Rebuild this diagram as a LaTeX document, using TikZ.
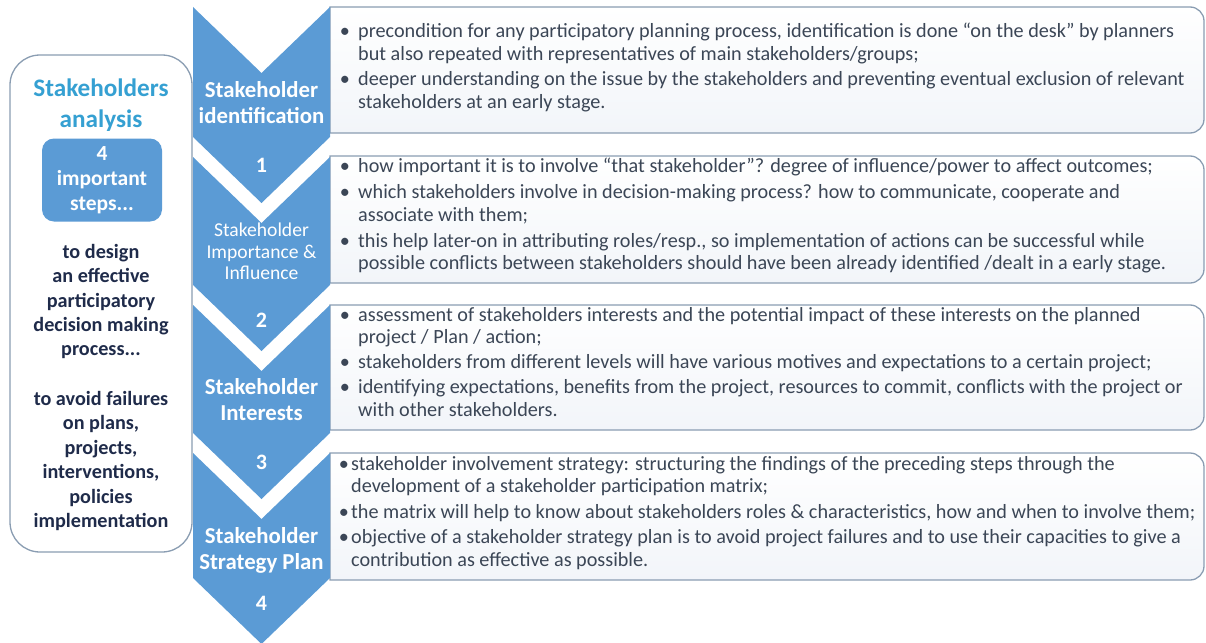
\documentclass[tikz,border=0pt]{standalone}
\usepackage{fontspec}
\setmainfont{Carlito}
\definecolor{chev}{HTML}{5B9BD5}
\definecolor{boxline}{HTML}{8A9DB2}
\definecolor{boxbottom}{HTML}{F2F5F9}
\definecolor{bodytxt}{HTML}{3B4656}
\definecolor{navy}{HTML}{1F2B4A}
\definecolor{titleblue}{HTML}{35A0D2}
\newcommand\txtln[4]{\node[txt] (#1) at (#2,#3) {#4};}
\newcommand\bulat[3]{\node[bul] (#1) at (#2,#3) {\textbullet};}
\newcommand\chevpath[2]{%
  \fill[chev] (193,#1) -- (261.5,#1+66) -- (330,#1) -- (330,#2) -- (261.5,#2+66) -- (193,#2) -- cycle;}
\newcommand\infopath[2]{%
  \draw[infobox] (330,#1) -- (1190,#1) arc (90:0:14pt) -- (1204,#2-14) arc (0:-90:14pt) -- (330,#2) -- cycle;}
\begin{document}
\begin{tikzpicture}[x=1pt,y=-1pt,
  infobox/.style={draw=boxline,line width=1.3pt,top color=white,bottom color=boxbottom},
  txt/.style={anchor=mid west,inner sep=0pt,text=bodytxt,font=\fontsize{20.2}{23}\selectfont},
  bul/.style={anchor=mid,inner sep=0pt,text=bodytxt,font=\fontsize{20.2}{23}\selectfont},
  chevbold/.style={text=white,align=center,inner sep=0pt,font=\bfseries\fontsize{22.8}{26}\selectfont},
  chevreg/.style={text=white,align=center,inner sep=0pt,font=\fontsize{19.6}{21.5}\selectfont},
  chevnum/.style={text=white,inner sep=0pt,font=\bfseries\fontsize{22}{26}\selectfont},
  navytxt/.style={text=navy,align=center,inner sep=0pt,font=\bfseries\fontsize{20.2}{24.4}\selectfont}]
\useasboundingbox (0,0) rectangle (1206,642);

% left panel
\draw[boxline,line width=1.3pt,rounded corners=30pt,fill=white] (10,55) rectangle (192,552);
\node[text=titleblue,align=center,inner sep=0pt,font=\bfseries\fontsize{25.2}{31}\selectfont] (title) at (101,105.5) {Stakeholders\\analysis};
\node[fill=chev,rounded corners=12pt,minimum width=120pt,minimum height=83pt,inner sep=0pt] (stepsbox) at (102,180) {};
\node[text=white,align=center,inner sep=0pt,font=\bfseries\fontsize{21.5}{25}\selectfont] (steps) at (stepsbox.center) {4\\important\\steps...};
\node[navytxt] (design) at (101,301.5) {to design\\an effective\\participatory\\decision making\\process...};
\node[navytxt] (avoid) at (101,461) {to avoid failures\\on plans,\\projects,\\interventions,\\policies\\implementation};

% info boxes
\infopath{7}{133}
\infopath{156}{283}
\infopath{305}{430}
\infopath{453}{580}

% chevrons
\chevpath{7}{137}
\chevpath{157}{285}
\chevpath{305}{433}
\chevpath{453}{578}

\node[chevbold] (c1) at (261.5,103) {Stakeholder\\identification};
\node[chevnum] (n1) at (261.5,165) {1};
\node[chevreg] (c2) at (261.5,251.5) {Stakeholder\\Importance \&\\Influence};
\node[chevnum] (n2) at (261.5,320) {2};
\node[chevbold] (c3) at (261.5,400) {Stakeholder\\Interests};
\node[chevnum] (n3) at (261.5,462) {3};
\node[chevbold] (c4) at (261.5,550) {Stakeholder\\Strategy Plan};
\node[chevnum] (n4) at (261.5,603) {4};

% box 1
\bulat{p1a}{345}{35}
\txtln{t1a}{358}{35}{precondition for any participatory planning process, identification is done “on the desk” by planners}
\txtln{t1b}{358}{58}{but also repeated with representatives of main stakeholders/groups;}
\bulat{p1c}{345}{83}
\txtln{t1c}{358}{83}{deeper understanding on the issue by the stakeholders and preventing eventual exclusion of relevant}
\txtln{t1d}{358}{106}{stakeholders at an early stage.}
% box 2
\bulat{p2a}{345}{170}
\txtln{t2a}{358}{170}{how important it is to involve “that stakeholder”? degree of influence/power to affect outcomes;}
\bulat{p2b}{345}{196}
\txtln{t2b}{358}{196}{which stakeholders involve in decision-making process? how to communicate, cooperate and}
\txtln{t2c}{358}{219}{associate with them;}
\bulat{p2d}{345}{245}
\txtln{t2d}{358}{245}{this help later-on in attributing roles/resp., so implementation of actions can be successful while}
\txtln{t2e}{358}{267}{possible conflicts between stakeholders should have been already identified /dealt in a early stage.}
% box 3
\bulat{p3a}{345}{319}
\txtln{t3a}{358}{319}{assessment of stakeholders interests and the potential impact of these interests on the planned}
\txtln{t3b}{358}{341}{project / Plan / action;}
\bulat{p3c}{345}{366}
\txtln{t3c}{358}{366}{stakeholders from different levels will have various motives and expectations to a certain project;}
\bulat{p3d}{345}{391}
\txtln{t3d}{358}{391}{identifying expectations, benefits from the project, resources to commit, conflicts with the project or}
\txtln{t3e}{358}{414}{with other stakeholders.}
% box 4
\bulat{p4a}{344}{468}
\txtln{t4a}{351}{468}{stakeholder involvement strategy: structuring the findings of the preceding steps through the}
\txtln{t4b}{351}{490}{development of a stakeholder participation matrix;}
\bulat{p4c}{344}{516}
\txtln{t4c}{351}{516}{the matrix will help to know about stakeholders roles \& characteristics, how and when to involve them;}
\bulat{p4d}{344}{541}
\txtln{t4d}{351}{541}{objective of a stakeholder strategy plan is to avoid project failures and to use their capacities to give a}
\txtln{t4e}{351}{564}{contribution as effective as possible.}
\end{tikzpicture}
\end{document}
